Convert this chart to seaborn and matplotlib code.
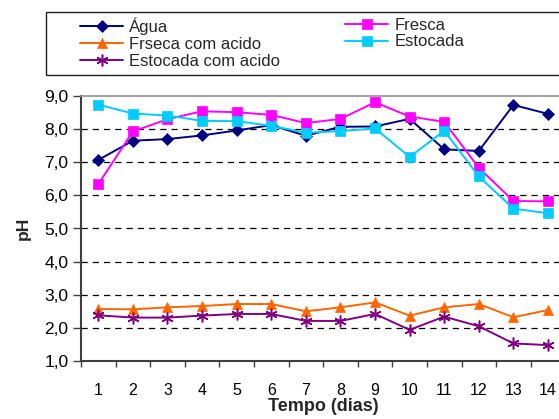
import matplotlib
matplotlib.use("Agg")
import matplotlib.pyplot as plt
import seaborn as sns
import numpy as np
import pandas as pd
from matplotlib.patches import Rectangle
from matplotlib.ticker import FixedLocator, FuncFormatter

dias = list(range(1, 15))
agua = [7.07, 7.65, 7.70, 7.81, 7.96, 8.12, 7.80, 8.07, 8.08, 8.31, 7.39, 7.34, 8.73, 8.46]
fresca = [6.34, 7.93, 8.30, 8.54, 8.51, 8.43, 8.18, 8.31, 8.81, 8.38, 8.22, 6.83, 5.83, 5.82]
frseca_acido = [2.57, 2.56, 2.62, 2.66, 2.72, 2.72, 2.50, 2.62, 2.77, 2.37, 2.62, 2.72, 2.32, 2.54]
estocada = [8.74, 8.47, 8.41, 8.25, 8.24, 8.10, 7.89, 7.94, 8.02, 7.16, 7.95, 6.57, 5.60, 5.46]
estocada_acido = [2.38, 2.31, 2.31, 2.37, 2.42, 2.42, 2.21, 2.21, 2.42, 1.94, 2.34, 2.05, 1.53, 1.48]

series_names = ["Água", "Fresca", "Frseca com acido", "Estocada", "Estocada com acido"]
series_vals = [agua, fresca, frseca_acido, estocada, estocada_acido]
colors = ["#000080", "#FF00FF", "#FF6600", "#00CCFF", "#800080"]
markers = ["D", "s", "^", "s", (6, 2, 0)]
msizes = [6.5, 7, 7.5, 7, 8.5]

sns.set_theme(style="white")
plt.rcParams["font.family"] = ["Liberation Sans", "DejaVu Sans"]

fig = plt.figure(figsize=(5.59, 4.19), dpi=100)
ax = fig.add_axes([81 / 559, 1 - 361 / 419, (565.3 - 81) / 559, (361 - 96) / 419])

for name, vals, c, m, ms in zip(series_names, series_vals, colors, markers, msizes):
    df = pd.DataFrame({"dia": dias, "pH": vals})
    sns.lineplot(data=df, x="dia", y="pH", ax=ax, color=c, marker=m, markersize=ms,
                 markeredgecolor=c, markerfacecolor=c,
                 markeredgewidth=1.1 if m == (6, 2, 0) else 0.5,
                 linewidth=1.4, label=name, legend=False, clip_on=False, zorder=3)
h, l = ax.get_legend_handles_labels()
hd = dict(zip(l, h))

ax.set_xlim(0.5, 14.5)
ax.set_ylim(1.0, 9.0)
for yv in range(2, 9):
    ax.axhline(yv, color="black", lw=0.9, ls=(0, (5, 4)), zorder=1)

ax.yaxis.set_major_locator(FixedLocator(np.arange(1, 10)))
ax.yaxis.set_major_formatter(FuncFormatter(lambda v, p: f"{v:.1f}".replace(".", ",")))
ax.set_xticks(dias)
ax.set_xticklabels([str(d) for d in dias])
ax.xaxis.set_minor_locator(FixedLocator(np.arange(0.5, 15, 1)))
ax.tick_params(axis="x", which="major", length=0, pad=16, labelsize=11.5, colors="black")
ax.tick_params(axis="x", which="minor", length=4, width=1, color="#404040", direction="out", bottom=True)
ax.tick_params(axis="y", which="major", length=6, width=1, color="#404040", direction="out",
               left=True, labelsize=12.5, pad=3)
for lab in ax.get_yticklabels():
    lab.set_color("black")

for s in ["left", "bottom"]:
    ax.spines[s].set_color("#404040")
    ax.spines[s].set_linewidth(1.5)
ax.spines["top"].set_color("#909090")
ax.spines["top"].set_linewidth(1.2)
ax.spines["right"].set_visible(False)

ax.set_xlabel("Tempo (dias)", fontsize=13, fontweight="bold", labelpad=0)
ax.set_ylabel("pH", fontsize=12.5, fontweight="bold", labelpad=10)

fig.patches.append(Rectangle((46 / 559, 1 - 75 / 419), 1.0, (75 - 12) / 419, transform=fig.transFigure,
                             fill=False, edgecolor="#202020", lw=1.0))

kw = dict(frameon=False, fontsize=12, handlelength=2.6, handletextpad=0.35,
          labelspacing=0.12, borderpad=0, borderaxespad=0, loc="upper left")
n1 = ["Água", "Frseca com acido", "Estocada com acido"]
n2 = ["Fresca", "Estocada"]
top = 1 - 17.5 / 419
fig.legend([hd[n] for n in n1], n1, bbox_to_anchor=(80 / 559, top), **kw)
fig.legend([hd[n] for n in n2], n2, bbox_to_anchor=(345 / 559, top), **kw)

fig.savefig("out.png", dpi=100)
